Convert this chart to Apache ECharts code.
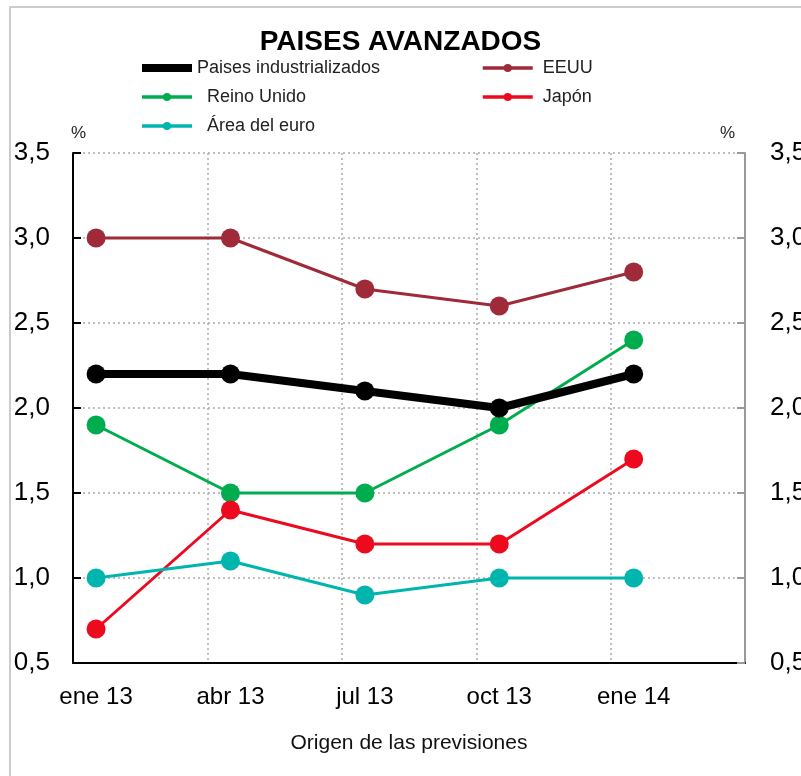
<!DOCTYPE html>
<html>
<head>
<meta charset="utf-8">
<script src="https://cdn.jsdelivr.net/npm/echarts@6/dist/echarts.min.js"></script>
<style>html,body{margin:0;padding:0;background:#fff}#c{width:801px;height:776px}</style>
</head>
<body>
<div id="c"></div>
<script>
const categories = ['ene 13', 'abr 13', 'jul 13', 'oct 13', 'ene 14'];
const industrializados = [2.2, 2.2, 2.1, 2.0, 2.2];
const eeuu = [3.0, 3.0, 2.7, 2.6, 2.8];
const reinoUnido = [1.9, 1.5, 1.5, 1.9, 2.4];
const japon = [0.7, 1.4, 1.2, 1.2, 1.7];
const areaEuro = [1.0, 1.1, 0.9, 1.0, 1.0];
const yTicks = [0.5, 1.0, 1.5, 2.0, 2.5, 3.0, 3.5];

const FONT = 'Liberation Sans';
const toXY = arr => arr.map((v, i) => [i, v]);
const xMin = -23 / 134;
const COLORS = {
  'Paises industrializados': '#000000', 'EEUU': '#9E2A3A', 'Reino Unido': '#00AD4E',
  'Japón': '#EE0A1E', 'Área del euro': '#00B5AD'
};
const WIDTHS = { 'Paises industrializados': 8 };

function mk(name, data, z) {
  const color = COLORS[name];
  return {
    name: name, type: 'line', data: toXY(data), z: z,
    symbol: 'circle', symbolSize: 19,
    lineStyle: { color: color, width: WIDTHS[name] || 3 },
    itemStyle: { color: color },
    emphasis: { disabled: true }
  };
}
function legItem(name) {
  return { name: name, lineStyle: { width: WIDTHS[name] || 3.5, color: COLORS[name] }, itemStyle: { color: COLORS[name] } };
}

const chart = echarts.init(document.getElementById('c'), null, { renderer: 'canvas' });
chart.setOption({
  animation: false,
  textStyle: { fontFamily: FONT },
  title: {
    text: 'PAISES AVANZADOS', left: 'center', top: 23,
    textStyle: { fontFamily: FONT, fontWeight: 'bold', fontSize: 28, color: '#000' }
  },
  graphic: [{
    type: 'rect', shape: { x: 10, y: 7, width: 900, height: 900 },
    style: { fill: 'none', stroke: '#cccccc', lineWidth: 2 }, silent: true, z: -10
  }],
  legend: [{
    data: ['Paises industrializados', 'Reino Unido', 'Área del euro'].map(legItem),
    orient: 'vertical', left: 138, top: 59, itemGap: 11, padding: 0,
    itemWidth: 50, itemHeight: 10,
    textStyle: { fontFamily: FONT, fontSize: 18, color: '#222' },
    formatter: n => n === 'Paises industrializados' ? n : '  ' + n
  }, {
    data: ['EEUU', 'Japón'].map(legItem),
    orient: 'vertical', left: 481, top: 59, itemGap: 11, padding: 0,
    itemWidth: 50, itemHeight: 10,
    textStyle: { fontFamily: FONT, fontSize: 18, color: '#222' },
    formatter: n => ' ' + n
  }],
  grid: { left: 73, right: 56, top: 153, bottom: 113, containLabel: false, outerBoundsMode: 'none' },
  xAxis: {
    type: 'value', min: xMin, max: xMin + 5, interval: 1,
    name: 'Origen de las previsiones', nameLocation: 'middle', nameGap: 70,
    nameTextStyle: { fontFamily: FONT, fontSize: 21, color: '#111' },
    axisLine: { show: true, onZero: false, lineStyle: { color: '#000', width: 2 } },
    axisTick: { show: false },
    splitLine: { show: true, lineStyle: { color: '#aaa', type: [2, 3], width: 1.5 } },
    axisLabel: {
      customValues: [0, 1, 2, 3, 4], margin: 22,
      formatter: v => categories[Math.round(v)] || '',
      fontFamily: FONT, fontSize: 24, color: '#000'
    }
  },
  yAxis: [{
    type: 'value', min: 0.5, max: 3.5, interval: 0.5, position: 'left',
    name: '%', nameLocation: 'end', nameGap: 11,
    nameTextStyle: { fontFamily: FONT, fontSize: 17, color: '#222', align: 'left', padding: [0, 0, 0, -2] },
    axisLine: { show: true, onZero: false, lineStyle: { color: '#000', width: 2 } },
    axisTick: { show: true, inside: true, length: 8, lineStyle: { color: '#000', width: 2 } },
    splitLine: { show: true, lineStyle: { color: '#aaa', type: [2, 3], width: 1.5 } },
    axisLabel: {
      margin: 23, fontFamily: FONT, fontSize: 26, color: '#000',
      formatter: v => v.toFixed(1).replace('.', ',')
    }
  }, {
    type: 'value', min: 0.5, max: 3.5, interval: 0.5, position: 'right',
    name: '%', nameLocation: 'end', nameGap: 11,
    nameTextStyle: { fontFamily: FONT, fontSize: 17, color: '#222', align: 'right', padding: [0, 10, 0, 0] },
    axisLine: { show: true, onZero: false, lineStyle: { color: '#999', width: 2 } },
    axisTick: { show: true, inside: true, length: 8, lineStyle: { color: '#999', width: 2 } },
    splitLine: { show: false },
    axisLabel: {
      margin: 25, fontFamily: FONT, fontSize: 26, color: '#000',
      formatter: v => v.toFixed(1).replace('.', ',')
    }
  }],
  series: [
    mk('Paises industrializados', industrializados, 5),
    mk('EEUU', eeuu, 3),
    mk('Reino Unido', reinoUnido, 3),
    mk('Japón', japon, 3),
    mk('Área del euro', areaEuro, 3)
  ]
});
</script>
</body>
</html>
